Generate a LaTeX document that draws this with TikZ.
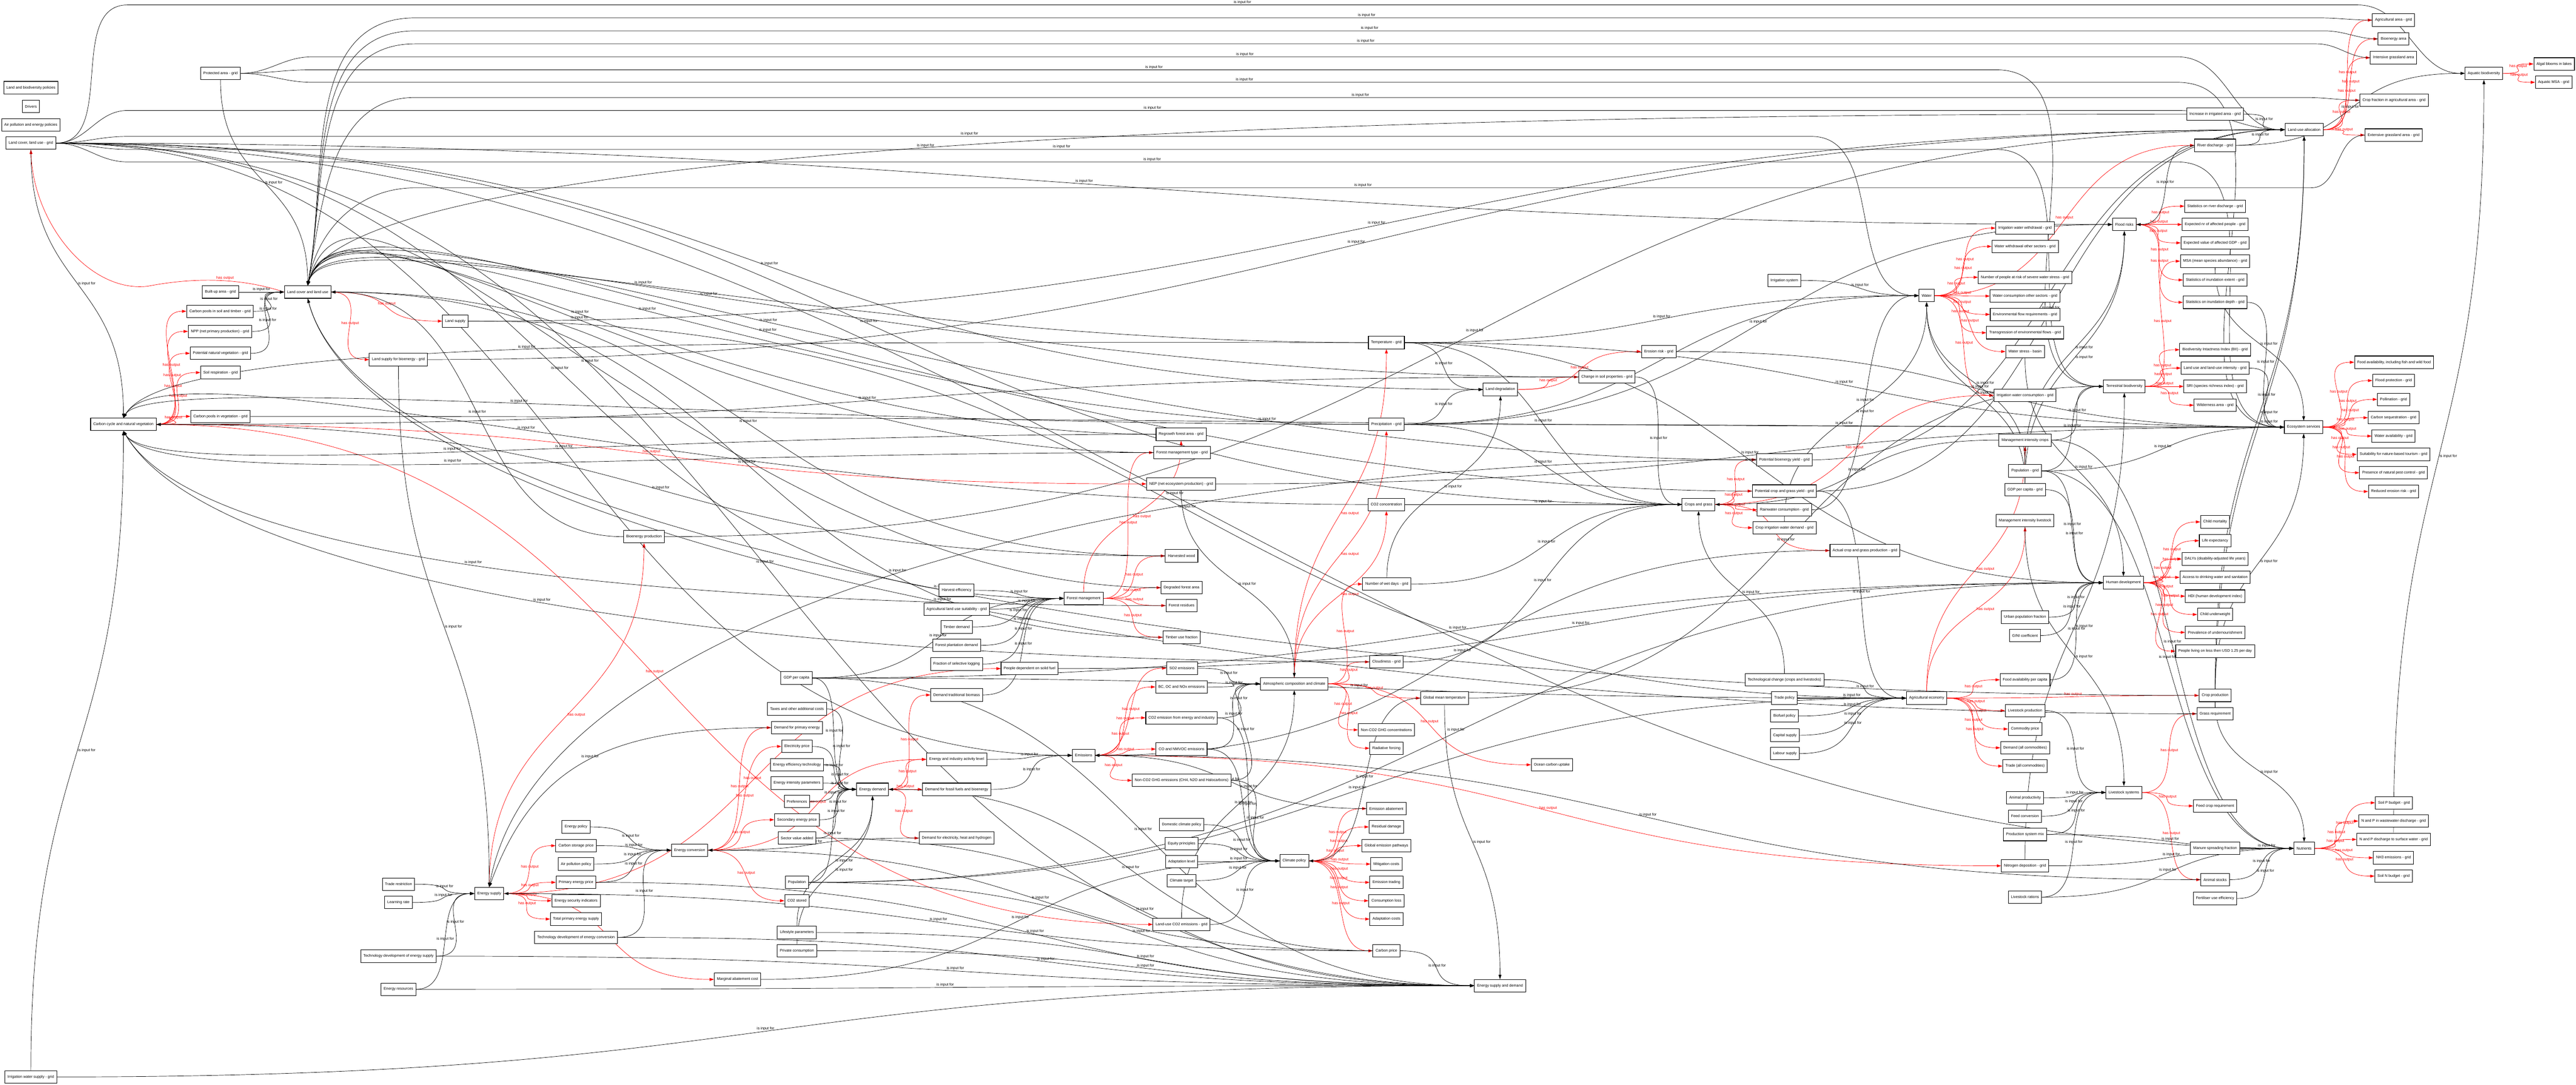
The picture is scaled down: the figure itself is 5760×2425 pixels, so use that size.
\documentclass[tikz,border=0pt]{standalone}
\usepackage{fontspec}
\setmainfont{Liberation Sans}
\usetikzlibrary{arrows.meta,calc}
\pgfdeclarelayer{edges}
\pgfsetlayers{edges,main}
\newdimen\lkxa \newdimen\lkya \newdimen\lkxb \newdimen\lkyb
\newdimen\lkdx \newdimen\lkdy \newdimen\lkA \newdimen\lkB
\newcommand\nfont{\fontsize{2.1pt}{2.5pt}\selectfont}
\newcommand\lkcalc[2]{%
 \pgfextractx\lkxa{\pgfpointanchor{#1}{center}}%
 \pgfextracty\lkya{\pgfpointanchor{#1}{center}}%
 \pgfextractx\lkxb{\pgfpointanchor{#2}{center}}%
 \pgfextracty\lkyb{\pgfpointanchor{#2}{center}}%
 \lkdx=\lkxb \advance\lkdx by -\lkxa
 \lkdy=\lkyb \advance\lkdy by -\lkya
 \ifdim\lkdx<0pt \lkdx=-\lkdx \def\lkh{1}\else\def\lkh{0}\fi
 \ifdim\lkdy<0pt \lkdy=-\lkdy \def\lkv{3}\else\def\lkv{2}\fi
 \ifdim\lkdy>1.6\lkdx \let\lkdir\lkv \lkA=0.5\lkdy \else \let\lkdir\lkh \lkA=0.5\lkdx \fi
 \ifdim\lkA>500pt \lkA=500pt\fi}
\newcommand\mklink[4]{%
 \lkcalc{#3}{#4}%
 \ifcase\lkdir
  \draw[#1] (#3.east) .. controls +(\lkA,0pt) and +(-\lkA,0pt) .. node[lab,above]{#2} (#4.west);%
 \or
  \draw[#1] (#3.west) .. controls +(-\lkA,0pt) and +(\lkA,0pt) .. node[lab,above]{#2} (#4.east);%
 \or
  \draw[#1] (#3.north) .. controls +(0pt,\lkA) and +(0pt,-\lkA) .. node[lab,right]{#2} (#4.south);%
 \or
  \draw[#1] (#3.south) .. controls +(0pt,-\lkA) and +(0pt,\lkA) .. node[lab,right]{#2} (#4.north);%
 \fi}
\newcommand\ein[2]{\mklink{inp}{is input for}{#1}{#2}}
\newcommand\eout[2]{\mklink{outp}{has output}{#1}{#2}}
\newcommand\einx[4]{%
 \lkcalc{#1}{#2}%
 \lkA=0.5\lkdx \ifdim\lkA>500pt \lkA=500pt\fi
 \lkB=0.5\lkdy \advance\lkB by 30pt \ifdim\lkB>300pt \lkB=300pt\fi
 \draw[inp] (#1.west) .. controls +(-\lkA,0pt) and +(#4:\lkB) .. node[lab,above]{is input for} (#2.#3);}
\newcommand\lanef[3]{\draw[inp] let \p1=(#1.east), \p2=(#2.west) in (\p1) to[out=0,in=180] ({\x1+40pt},{-0.25pt*#3}) -- node[lab,above]{is input for} ({\x2-60pt},{-0.25pt*#3}) to[out=0,in=180] (\p2);}
\newcommand\laneb[3]{\draw[inp] let \p1=(#1.west), \p2=(#2.north) in (\p1) to[out=180,in=0] ({\x1-30pt},{-0.25pt*#3}) -- node[lab,above]{is input for} ({\x2+60pt},{-0.25pt*#3}) to[out=180,in=80] (\p2);}
\begin{document}
\begin{tikzpicture}[x=0.25pt,y=0.25pt,
 box/.style={draw,line width=0.3pt,fill=white,font=\nfont,inner xsep=1.5pt,inner ysep=0pt,minimum height=7pt},
 lab/.style={font=\nfont,inner sep=0.4pt,pos=0.5},
 inp/.style={draw=black,line width=0.2pt,-{Triangle[length=2.4pt,width=1.6pt]}},
 outp/.style={red,line width=0.2pt,-{Triangle[length=2.4pt,width=1.6pt]}}]
\useasboundingbox (0,0) rectangle (5760,-2425);
\node[box] (lbp) at (69,-196) {Land and biodiversity policies};
\node[box] (drv) at (69,-238) {Drivers};
\node[box] (apep) at (69,-279) {Air pollution and energy policies};
\node[box] (lclug) at (69,-320) {Land cover, land use - grid};
\node[box] (iws) at (69,-2408) {Irrigation water supply - grid};
\node[box] (pa) at (493,-164) {Protected area - grid};
\node[box] (bua) at (493,-653) {Built-up area - grid};
\node[box] (cpst) at (492,-696) {Carbon pools in soil and timber - grid};
\node[box] (npp) at (492,-741) {NPP (net primary production) - grid};
\node[box] (pnv) at (493,-790) {Potential natural vegetation - grid};
\node[box] (sr) at (493,-833) {Soil respiration - grid};
\node[box] (cpv) at (493,-931) {Carbon pools in vegetation - grid};
\node[box] (lclu) at (688,-653) {Land cover and land use};
\node[box] (cc) at (276,-949) {Carbon cycle and natural vegetation};
\node[box] (ls) at (1018,-718) {Land supply};
\node[box] (lsb) at (891,-804) {Land supply for bioenergy - grid};
\node[box] (tr) at (891,-1977) {Trade restriction};
\node[box] (lr) at (891,-2018) {Learning rate};
\node[box] (es) at (1094,-1998) {Energy supply};
\node[box] (ep) at (1288,-1849) {Energy policy};
\node[box] (csp) at (1288,-1891) {Carbon storage price};
\node[box] (app) at (1288,-1932) {Air pollution policy};
\node[box] (pep) at (1288,-1973) {Primary energy price};
\node[box] (esi) at (1288,-2014) {Energy security indicators};
\node[box] (tpes) at (1288,-2055) {Total primary energy supply};
\node[box] (tdec) at (1288,-2096) {Technology development of energy conversion};
\node[box] (tdes) at (891,-2138) {Technology development of energy supply};
\node[box] (er) at (891,-2212) {Energy resources};
\node[box] (bp) at (1440,-1200) {Bioenergy production};
\node[box] (ec) at (1542,-1901) {Energy conversion};
\node[box] (gdpc) at (1781,-1516) {GDP per capita};
\node[box] (taxes) at (1782,-1585) {Taxes and other additional costs};
\node[box] (dpe) at (1782,-1627) {Demand for primary energy};
\node[box] (elp) at (1782,-1669) {Electricity price};
\node[box] (eet) at (1782,-1710) {Energy efficiency technology};
\node[box] (eip) at (1782,-1751) {Energy intensity parameters};
\node[box] (pref) at (1782,-1792) {Preferences};
\node[box] (sep) at (1782,-1833) {Secondary energy price};
\node[box] (sva) at (1782,-1874) {Sector value added};
\node[box] (pop) at (1782,-1973) {Population};
\node[box] (co2s) at (1782,-2014) {CO2 stored};
\node[box] (lsp) at (1782,-2085) {Lifestyle parameters};
\node[box] (pc) at (1782,-2126) {Private consumption};
\node[box] (mac) at (1649,-2190) {Marginal abatement cost};
\node[box] (ed) at (1951,-1765) {Energy demand};
\node[box] (eial) at (2139,-1698) {Energy and industry activity level};
\node[box] (dffb) at (2139,-1765) {Demand for fossil fuels and bioenergy};
\node[box] (dehh) at (2139,-1874) {Demand for electricity, heat and hydrogen};
\node[box] (he) at (2139,-1320) {Harvest efficiency};
\node[box] (alus) at (2139,-1362) {Agricultural land use suitability - grid};
\node[box] (td) at (2139,-1402) {Timber demand};
\node[box] (fpd) at (2139,-1443) {Forest plantation demand};
\node[box] (fsl) at (2139,-1485) {Fraction of selective logging};
\node[box] (dtb) at (2139,-1554) {Demand traditional biomass};
\node[box] (pdsf) at (2302,-1495) {People dependent on solid fuel};
\node[box] (fm) at (2423,-1338) {Forest management};
\node[box] (rfa) at (2641,-971) {Regrowth forest area - grid};
\node[box] (fmt) at (2643,-1012) {Forest management type - grid};
\node[box] (nep) at (2641,-1082) {NEP (net ecosystem production) - grid};
\node[box] (hw) at (2642,-1243) {Harvested wood};
\node[box] (dfa) at (2642,-1314) {Degraded forest area};
\node[box] (fr) at (2642,-1354) {Forest residues};
\node[box] (tuf) at (2642,-1425) {Timber use fraction};
\node[box] (so2) at (2643,-1494) {SO2 emissions};
\node[box] (bcoc) at (2642,-1536) {BC, OC and NOx emissions};
\node[box] (co2ei) at (2642,-1605) {CO2 emission from energy and industry};
\node[box] (em) at (2423,-1689) {Emissions};
\node[box] (conm) at (2642,-1675) {CO and NMVOC emissions};
\node[box] (nco2) at (2642,-1745) {Non-CO2 GHG emissions (CH4, N2O and Halocarbons)};
\node[box] (dcp) at (2642,-1844) {Domestic climate policy};
\node[box] (eqp) at (2642,-1886) {Equity principles};
\node[box] (al) at (2642,-1927) {Adaptation level};
\node[box] (ct) at (2642,-1969) {Climate target};
\node[box] (luco2) at (2642,-2067) {Land-use CO2 emissions - grid};
\node[box] (acc) at (2894,-1529) {Atmospheric composition and climate};
\node[box] (cp) at (2894,-1925) {Climate policy};
\node[box] (temp) at (3100,-766) {Temperature - grid};
\node[box] (prec) at (3100,-949) {Precipitation - grid};
\node[box] (co2c) at (3100,-1128) {CO2 concentration};
\node[box] (nwd) at (3101,-1306) {Number of wet days - grid};
\node[box] (cloud) at (3100,-1480) {Cloudiness - grid};
\node[box] (gmt) at (3230,-1561) {Global mean temperature};
\node[box] (nco2c) at (3100,-1632) {Non-CO2 GHG concentrations};
\node[box] (rf) at (3100,-1673) {Radiative forcing};
\node[box] (ema) at (3100,-1808) {Emission abatement};
\node[box] (rd) at (3100,-1849) {Residual damage};
\node[box] (gep) at (3100,-1891) {Global emission pathways};
\node[box] (mc) at (3100,-1932) {Mitigation costs};
\node[box] (et) at (3100,-1973) {Emission trading};
\node[box] (cl) at (3100,-2014) {Consumption loss};
\node[box] (ac) at (3100,-2055) {Adaptation costs};
\node[box] (cpr) at (3100,-2126) {Carbon price};
\node[box] (ocu) at (3470,-1710) {Ocean carbon uptake};
\node[box] (esd) at (3354,-2204) {Energy supply and demand};
\node[box] (ld) at (3355,-871) {Land degradation};
\node[box] (csp2) at (3593,-843) {Change in soil properties - grid};
\node[box] (eros) at (3709,-786) {Erosion risk - grid};
\node[box] (cg) at (3798,-1128) {Crops and grass};
\node[box] (isys) at (3990,-627) {Irrigation system};
\node[box] (pby) at (3990,-1028) {Potential bioenergy yield - grid};
\node[box] (pcgy) at (3990,-1098) {Potential crop and grass yield - grid};
\node[box] (rwc) at (3990,-1140) {Rainwater consumption - grid};
\node[box] (ciwd) at (3990,-1180) {Crop irrigation water demand - grid};
\node[box] (acgp) at (4170,-1231) {Actual crop and grass production - grid};
\node[box] (tcl) at (3990,-1520) {Technological change (crops and livestocks)};
\node[box] (tp) at (3990,-1561) {Trade policy};
\node[box] (bfp) at (3990,-1601) {Biofuel policy};
\node[box] (cs) at (3991,-1644) {Capital supply};
\node[box] (lbs) at (3991,-1685) {Labour supply};
\node[box] (wat) at (4308,-661) {Water};
\node[box] (ae) at (4308,-1561) {Agricultural economy};
\node[box] (iww) at (4528,-510) {Irrigation water withdrawal - grid};
\node[box] (wwo) at (4528,-551) {Water withdrawal other sectors - grid};
\node[box] (npr) at (4528,-620) {Number of people at risk of severe water stress - grid};
\node[box] (wco) at (4528,-662) {Water consumption other sectors - grid};
\node[box] (efr) at (4528,-703) {Environmental flow requirements - grid};
\node[box] (tef) at (4528,-744) {Transgression of environmental flows - grid};
\node[box] (wsb) at (4528,-786) {Water stress - basin};
\node[box] (iwc) at (4528,-884) {Irrigation water consumption - grid};
\node[box] (mic) at (4528,-984) {Management intensity crops};
\node[box] (popg) at (4528,-1053) {Population - grid};
\node[box] (gdpg) at (4528,-1095) {GDP per capita - grid};
\node[box] (mil) at (4528,-1164) {Management intensity livestock};
\node[box] (upf) at (4528,-1380) {Urban population fraction};
\node[box] (gini) at (4528,-1421) {GINI coefficient};
\node[box] (fapc) at (4528,-1520) {Food availability per capita};
\node[box] (lp) at (4528,-1589) {Livestock production};
\node[box] (cpri) at (4528,-1630) {Commodity price};
\node[box] (dac) at (4528,-1672) {Demand (all commodities)};
\node[box] (tac) at (4528,-1713) {Trade (all commodities)};
\node[box] (ap) at (4528,-1784) {Animal productivity};
\node[box] (fc) at (4528,-1825) {Feed conversion};
\node[box] (psm) at (4528,-1866) {Production system mix};
\node[box] (nd) at (4528,-1936) {Nitrogen deposition - grid};
\node[box] (lr2) at (4528,-2006) {Livestock rations};
\node[box] (frk) at (4750,-502) {Flood risks};
\node[box] (tb) at (4750,-864) {Terrestrial biodiversity};
\node[box] (hd) at (4748,-1303) {Human development};
\node[box] (lss) at (4749,-1772) {Livestock systems};
\node[box] (iia) at (4953,-255) {Increase in irrigated area - grid};
\node[box] (rdg) at (4953,-325) {River discharge - grid};
\node[box] (srd) at (4953,-461) {Statistics on river discharge - grid};
\node[box] (enap) at (4953,-502) {Expected nr of affected people - grid};
\node[box] (evag) at (4953,-543) {Expected value of affected GDP - grid};
\node[box] (msa) at (4953,-584) {MSA (mean species abundance) - grid};
\node[box] (sie) at (4953,-626) {Statistics of inundation extent - grid};
\node[box] (sid) at (4953,-676) {Statistics on inundation depth - grid};
\node[box] (bii) at (4953,-782) {Biodiversity Intactness Index (BII) - grid};
\node[box] (luli) at (4953,-823) {Land use and land-use intensity - grid};
\node[box] (sri) at (4953,-864) {SRI (species richness index) - grid};
\node[box] (wa) at (4953,-906) {Wilderness area - grid};
\node[box] (chm) at (4953,-1167) {Child mortality};
\node[box] (le) at (4953,-1209) {Life expectancy};
\node[box] (daly) at (4953,-1250) {DALYs (disability-adjusted life years)};
\node[box] (adw) at (4953,-1291) {Access to drinking water and sanitation};
\node[box] (hdi) at (4953,-1333) {HDI (human development index)};
\node[box] (cu) at (4953,-1374) {Child underweight};
\node[box] (pu) at (4953,-1414) {Prevalence of undernourishment};
\node[box] (pl) at (4953,-1456) {People living on less then USD 1.25 per day};
\node[box] (crp) at (4953,-1555) {Crop production};
\node[box] (grq) at (4953,-1596) {Grass requirement};
\node[box] (fcr) at (4953,-1802) {Feed crop requirement};
\node[box] (msf) at (4953,-1897) {Manure spreading fraction};
\node[box] (ast) at (4953,-1967) {Animal stocks};
\node[box] (fue) at (4953,-2009) {Fertiliser use efficiency};
\node[box] (lua) at (5152,-290) {Land-use allocation};
\node[box] (esv) at (5151,-955) {Ecosystem services};
\node[box] (nut) at (5152,-1897) {Nutrients};
\node[box] (aga) at (5352,-45) {Agricultural area - grid};
\node[box] (bea) at (5352,-87) {Bioenergy area};
\node[box] (iga) at (5352,-129) {Intensive grassland area};
\node[box] (cfa) at (5353,-224) {Crop fraction in agricultural area - grid};
\node[box] (ega) at (5352,-302) {Extensive grassland area - grid};
\node[box] (faf) at (5353,-810) {Food availability, including fish and wild food};
\node[box] (fp) at (5352,-851) {Flood protection - grid};
\node[box] (pol) at (5352,-893) {Pollination - grid};
\node[box] (csq) at (5352,-934) {Carbon sequestration - grid};
\node[box] (wav) at (5352,-975) {Water availability - grid};
\node[box] (snt) at (5352,-1016) {Suitability for nature-based tourism - grid};
\node[box] (pnp) at (5352,-1057) {Presence of natural pest control - grid};
\node[box] (rer) at (5352,-1099) {Reduced erosion risk - grid};
\node[box] (spb) at (5353,-1795) {Soil P budget - grid};
\node[box] (npw) at (5352,-1836) {N and P in wastewater discharge - grid};
\node[box] (npd) at (5352,-1877) {N and P discharge to surface water - grid};
\node[box] (nh3) at (5352,-1918) {NH3 emissions - grid};
\node[box] (snb) at (5352,-1959) {Soil N budget - grid};
\node[box] (aqb) at (5554,-164) {Aquatic biodiversity};
\node[box] (abl) at (5711,-143) {Algal blooms in lakes};
\node[box] (amsa) at (5710,-184) {Aquatic MSA - grid};
\begin{pgfonlayer}{edges}
% ---- has output ----
\draw[outp] (lclu.west) .. controls (560,-628) and (460,-615) .. node[lab,above]{has output} (330,-640) .. controls (200,-655) and (75,-500) .. (lclug.south);
\eout{lclu}{ls} \eout{lclu}{lsb}
\eout{cc}{cpst} \eout{cc}{npp} \eout{cc}{pnv} \eout{cc}{sr} \eout{cc}{cpv} \eout{cc}{nep} \eout{cc}{luco2}
\eout{es}{csp} \eout{es}{pep} \eout{es}{esi} \eout{es}{tpes} \eout{es}{bp} \eout{es}{mac} \eout{es}{pdsf}
\eout{ec}{dpe} \eout{ec}{elp} \eout{ec}{sep} \eout{ec}{co2s} \eout{ec}{eial}
\eout{ed}{eial} \eout{ed}{dffb} \eout{ed}{dehh} \eout{ed}{dtb}
\eout{em}{conm} \eout{em}{nco2} \eout{em}{so2} \eout{em}{bcoc} \eout{em}{co2ei} \eout{em}{nd}
\eout{fm}{rfa} \eout{fm}{fmt} \eout{fm}{hw} \eout{fm}{dfa} \eout{fm}{fr} \eout{fm}{tuf}
\eout{acc}{temp} \eout{acc}{prec} \eout{acc}{co2c} \eout{acc}{nwd} \eout{acc}{cloud} \eout{acc}{gmt} \eout{acc}{nco2c} \eout{acc}{rf} \eout{acc}{ocu}
\eout{cp}{ema} \eout{cp}{rd} \eout{cp}{gep} \eout{cp}{mc} \eout{cp}{et} \eout{cp}{cl} \eout{cp}{ac} \eout{cp}{cpr}
\eout{ld}{csp2} \eout{ld}{eros}
\eout{cg}{pby} \eout{cg}{pcgy} \eout{cg}{rwc} \eout{cg}{ciwd} \eout{cg}{acgp} \eout{cg}{iwc}
\eout{wat}{iww} \eout{wat}{wwo} \eout{wat}{npr} \eout{wat}{wco} \eout{wat}{efr} \eout{wat}{tef} \eout{wat}{wsb} \eout{wat}{iwc} \eout{wat}{rdg}
\eout{frk}{srd} \eout{frk}{enap} \eout{frk}{evag} \eout{frk}{sie} \eout{frk}{sid}
\eout{lua}{aga} \eout{lua}{bea} \eout{lua}{iga} \eout{lua}{cfa} \eout{lua}{ega}
\eout{aqb}{abl} \eout{aqb}{amsa}
\eout{tb}{msa} \eout{tb}{bii} \eout{tb}{luli} \eout{tb}{sri} \eout{tb}{wa}
\eout{esv}{faf} \eout{esv}{fp} \eout{esv}{pol} \eout{esv}{csq} \eout{esv}{wav} \eout{esv}{snt} \eout{esv}{pnp} \eout{esv}{rer}
\eout{hd}{chm} \eout{hd}{le} \eout{hd}{daly} \eout{hd}{adw} \eout{hd}{hdi} \eout{hd}{cu} \eout{hd}{pu} \eout{hd}{pl}
\eout{ae}{mic} \eout{ae}{mil} \eout{ae}{fapc} \eout{ae}{crp} \eout{ae}{lp} \eout{ae}{cpri} \eout{ae}{dac} \eout{ae}{tac}
\eout{lss}{fcr} \eout{lss}{ast} \eout{lss}{grq}
\eout{nut}{spb} \eout{nut}{npw} \eout{nut}{npd} \eout{nut}{nh3} \eout{nut}{snb}
% ---- lanes ----
\lanef{lclug}{aqb}{11}
\laneb{aga}{lclu}{40}
\laneb{bea}{lclu}{69}
\laneb{iga}{lclu}{98}
\lanef{pa}{lua}{127}
\lanef{pa}{tb}{156}
\lanef{pa}{esv}{184}
\laneb{cfa}{lclu}{218}
\lanef{lclug}{lua}{247}
\lanef{lclug}{wat}{305}
\lanef{lclug}{tb}{334}
\lanef{lclug}{esv}{362}
\laneb{ega}{lclu}{420}
% ---- is input for ----
\ein{pa}{lclu} \ein{bua}{lclu} \ein{cpst}{lclu} \ein{npp}{lclu} \ein{pnv}{lclu}
\einx{rfa}{lclu}{north}{75} \einx{fmt}{lclu}{north}{75} \einx{dfa}{lclu}{north}{75} \einx{csp2}{lclu}{north}{75} \einx{pcgy}{lclu}{north}{75} \einx{iia}{lclu}{north}{75} \einx{temp}{lclu}{north}{75} \einx{prec}{lclu}{north}{75} \einx{pby}{lclu}{north}{75}
\ein{hw}{lclu} \ein{tuf}{lclu} \ein{bp}{lclu}
\einx{crp}{lclu}{south}{-75} \einx{grq}{lclu}{south}{-75}
\ein{lclug}{cc} \ein{iws}{cc}
\einx{temp}{cc}{north}{60} \einx{prec}{cc}{north}{60} \einx{co2c}{cc}{north}{60}
\ein{csp2}{cc} \ein{hw}{cc}
\einx{cloud}{cc}{south}{-60} \einx{fr}{cc}{south}{-60} \einx{fmt}{cc}{south}{-60} \einx{rfa}{cc}{south}{-60}
\ein{tr}{es} \ein{lr}{es} \ein{tdes}{es} \ein{er}{es} \ein{lsb}{es} \einx{pby}{es}{north}{80} \einx{dpe}{es}{north}{70} \ein{cpr}{es}
\ein{ep}{ec} \ein{csp}{ec} \ein{app}{ec} \ein{pep}{ec} \ein{tdec}{ec} \ein{dehh}{ec} \ein{cpr}{ec}
\ein{gdpc}{ed} \ein{taxes}{ed} \ein{elp}{ed} \ein{eet}{ed} \ein{eip}{ed} \ein{pref}{ed} \ein{sep}{ed} \ein{sva}{ed} \ein{pop}{ed} \ein{lsp}{ed} \ein{pc}{ed} \ein{cpr}{ed}
\ein{he}{fm} \ein{alus}{fm} \ein{td}{fm} \ein{fpd}{fm} \ein{fsl}{fm} \ein{dtb}{fm} \ein{lclug}{fm} \ein{gdpc}{fm}
\ein{eial}{em} \ein{lclug}{em} \ein{ema}{em} \ein{ast}{em} \ein{acgp}{em} \ein{dffb}{em}
\ein{so2}{acc} \ein{bcoc}{acc} \ein{co2ei}{acc} \ein{conm}{acc} \ein{nco2}{acc} \ein{luco2}{acc} \ein{nep}{acc}
\ein{dcp}{cp} \ein{eqp}{cp} \ein{al}{cp} \ein{ct}{cp} \ein{mac}{cp} \ein{nco2}{cp} \ein{co2ei}{cp} \ein{luco2}{cp} \ein{conm}{cp} \ein{gmt}{cp}
\ein{prec}{ld} \ein{nwd}{ld} \ein{temp}{ld} \ein{lclug}{ld}
\ein{temp}{cg} \ein{prec}{cg} \ein{co2c}{cg} \ein{nwd}{cg} \ein{cloud}{cg} \ein{csp2}{cg} \ein{lclug}{cg} \ein{mic}{cg} \ein{tcl}{cg}
\ein{isys}{wat} \ein{temp}{wat} \ein{prec}{wat} \ein{ciwd}{wat} \ein{popg}{wat} \ein{gdpg}{wat} \ein{rwc}{wat}
\ein{lclug}{frk} \ein{prec}{frk} \ein{popg}{frk} \ein{gdpg}{frk} \ein{rdg}{frk}
\ein{iia}{lua} \ein{rdg}{lua} \ein{crp}{lua} \ein{grq}{lua} \ein{pcgy}{lua} \ein{ls}{lua} \ein{lsb}{lua} \ein{bp}{lua} \ein{pby}{lua}
\ein{rdg}{aqb} \ein{npd}{aqb}
\ein{mic}{tb} \ein{nd}{tb} \ein{gmt}{tb} \ein{popg}{tb}
\ein{luli}{esv} \ein{msa}{esv} \ein{eros}{esv} \ein{sid}{esv} \ein{prec}{esv} \ein{temp}{esv} \ein{crp}{esv} \ein{nep}{esv} \ein{cpv}{esv} \ein{popg}{esv}
\ein{upf}{hd} \ein{gini}{hd} \ein{fapc}{hd} \ein{popg}{hd} \ein{gdpg}{hd} \ein{gdpc}{hd} \ein{pop}{hd} \ein{wsb}{hd} \ein{pdsf}{hd} \ein{temp}{hd}
\ein{tcl}{ae} \ein{tp}{ae} \ein{bfp}{ae} \ein{cs}{ae} \ein{lbs}{ae} \ein{pcgy}{ae} \ein{pop}{ae} \ein{gdpc}{ae} \ein{ls}{ae}
\ein{ap}{lss} \ein{fc}{lss} \ein{psm}{lss} \ein{lr2}{lss} \ein{mil}{lss} \ein{lp}{lss}
\ein{msf}{nut} \ein{ast}{nut} \ein{fue}{nut} \ein{psm}{nut} \ein{nd}{nut} \ein{lr2}{nut} \ein{lclug}{nut} \ein{popg}{nut} \ein{mic}{nut} \ein{crp}{nut}
\ein{cpr}{esd} \ein{pep}{esd} \ein{tdec}{esd} \ein{tdes}{esd} \ein{er}{esd} \ein{pop}{esd} \ein{gdpc}{esd} \ein{iws}{esd} \ein{lclug}{esd} \ein{gmt}{esd} \ein{lsp}{esd} \ein{pc}{esd} \ein{sva}{esd}
\end{pgfonlayer}
\end{tikzpicture}
\end{document}
